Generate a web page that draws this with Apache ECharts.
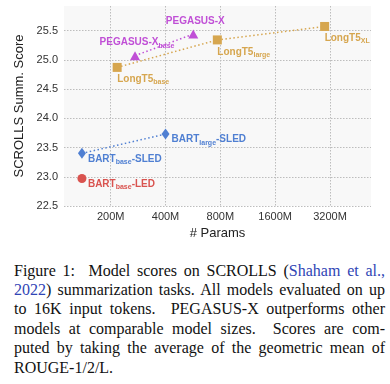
<!DOCTYPE html>
<html>
<head>
<meta charset="utf-8">
<script src="https://cdn.jsdelivr.net/npm/echarts@6/dist/echarts.min.js"></script>
<style>
  html, body { margin: 0; padding: 0; background: #fff; }
  #chart { position: absolute; left: 0; top: 0; width: 390px; height: 255px; }
  #caption { position: absolute; left: 14px; top: 260.5px; width: 371px;
    font-family: "Liberation Serif", "Times New Roman", serif; font-size: 16px;
    line-height: 19.4px; color: #111; }
  #caption div { text-align: justify; text-align-last: justify; white-space: nowrap; }
  #caption div.last { text-align-last: left; }
  #caption span.cite { color: #2f45b5; }
</style>
</head>
<body>
<div id="chart"></div>
<div id="caption">
  <div>Figure 1:&nbsp; Model scores on SCROLLS (<span class="cite">Shaham et al.,</span></div>
  <div><span class="cite">2022</span>) summarization tasks. All models evaluated on up</div>
  <div>to 16K input tokens.&nbsp; PEGASUS-X outperforms other</div>
  <div>models at comparable model sizes.&nbsp; Scores are com-</div>
  <div>puted by taking the average of the geometric mean of</div>
  <div class="last">ROUGE-1/2/L.</div>
</div>
<script>
// ---- data (params in millions, SCROLLS summarization score) ----
const bartLedParams = [139];
const bartLedScores = [22.97];
const bartLedNames = ['BART{sub|base}-LED'];

const bartSledParams = [139, 400];
const bartSledScores = [23.40, 23.73];
const bartSledNames = ['BART{sub|base}-SLED', 'BART{sub|large}-SLED'];

const longt5Params = [217, 770, 2990];
const longt5Scores = [24.87, 25.34, 25.57];
const longt5Names = ['LongT5{sub|base}', 'LongT5{sub|large}', 'LongT5{sub|XL}'];

const pegasusParams = [272, 568];
const pegasusScores = [25.07, 25.44];
const pegasusNames = ['PEGASUS-X{sub|base}', 'PEGASUS-X'];

const xTickLabels = ['200M', '400M', '800M', '1600M', '3200M'];

// ---- styling ----
const C_RED = '#d9534f', C_BLUE = '#4f7fd2', C_GOLD = '#d6a64f', C_PURPLE = '#c04fd6';
const toX = p => Math.log2(p / 100);
const labelFont = 'Liberation Sans';

function buildData(params, scores, names) {
  return params.map((p, i) => ({ value: [toX(p), scores[i]], name: names[i] }));
}
function mkSeries(params, scores, names, color, symbol, size, labelCfg) {
  return {
    type: 'line',
    data: buildData(params, scores, names),
    symbol: symbol,
    symbolSize: size,
    showSymbol: true,
    itemStyle: { color: color, opacity: 1 },
    lineStyle: { color: color, width: 1.5, type: [1.5, 2.5] },
    label: Object.assign({
      show: true,
      formatter: p => p.name,
      color: color,
      fontFamily: labelFont,
      fontWeight: 'bold',
      fontSize: 10,
      lineHeight: 13,
      position: 'inside',
      rich: { sub: { fontSize: 7, fontWeight: 'bold', fontFamily: labelFont, color: color, verticalAlign: 'bottom', lineHeight: 8 } }
    }, labelCfg),
    emphasis: { disabled: true },
    z: 3
  };
}

const chart = echarts.init(document.getElementById('chart'), null, { renderer: 'canvas' });
chart.setOption({
  animation: false,
  grid: { left: 64, right: 19, top: 6, bottom: 49, show: true, backgroundColor: '#f8f8f8', borderWidth: 0 },
  xAxis: {
    type: 'value',
    min: 0.148, max: 5.748,
    name: '# Params', nameLocation: 'middle', nameGap: 18,
    nameTextStyle: { fontFamily: 'Liberation Sans', fontSize: 13, color: '#222' },
    axisLine: { show: false }, axisTick: { show: false },
    axisLabel: {
      margin: 5, fontFamily: 'Liberation Sans', fontSize: 11, color: '#333',
      showMinLabel: false, showMaxLabel: false,
      formatter: v => { const i = Math.round(v) - 1; return (Math.abs(v - Math.round(v)) < 1e-6 && xTickLabels[i]) ? xTickLabels[i] : ''; }
    },
    splitLine: { show: true, showMinLine: false, showMaxLine: false, lineStyle: { color: '#bdbdbd', width: 1, type: [1.5, 1.5] } }
  },
  yAxis: {
    type: 'value',
    min: 22.5, max: 25.92, interval: 0.5,
    name: 'SCROLLS Summ. Score', nameLocation: 'middle', nameGap: 30,
    nameTextStyle: { fontFamily: 'Liberation Sans', fontSize: 13, color: '#222' },
    axisLine: { show: false }, axisTick: { show: false },
    axisLabel: { margin: 6, fontFamily: 'Liberation Sans', fontSize: 11, color: '#333', showMaxLabel: false,
      formatter: v => v.toFixed(1) },
    splitLine: { show: true, showMaxLine: false, lineStyle: { color: '#bdbdbd', width: 1, type: [1.5, 1.5] } }
  },
  series: [
    mkSeries(bartLedParams, bartLedScores, bartLedNames, C_RED, 'circle', 9, { align: 'left', offset: [6, 5.5] }),
    mkSeries(bartSledParams, bartSledScores, bartSledNames, C_BLUE, 'diamond', [8, 11], { align: 'left', offset: [6, 5.5] }),
    mkSeries(longt5Params, longt5Scores, longt5Names, C_GOLD, 'rect', 9, { align: 'left', offset: [0, 12] }),
    mkSeries(pegasusParams, pegasusScores, pegasusNames, C_PURPLE, 'triangle', [10, 9], { align: 'center', offset: [2, -13] })
  ]
});
</script>
</body>
</html>
